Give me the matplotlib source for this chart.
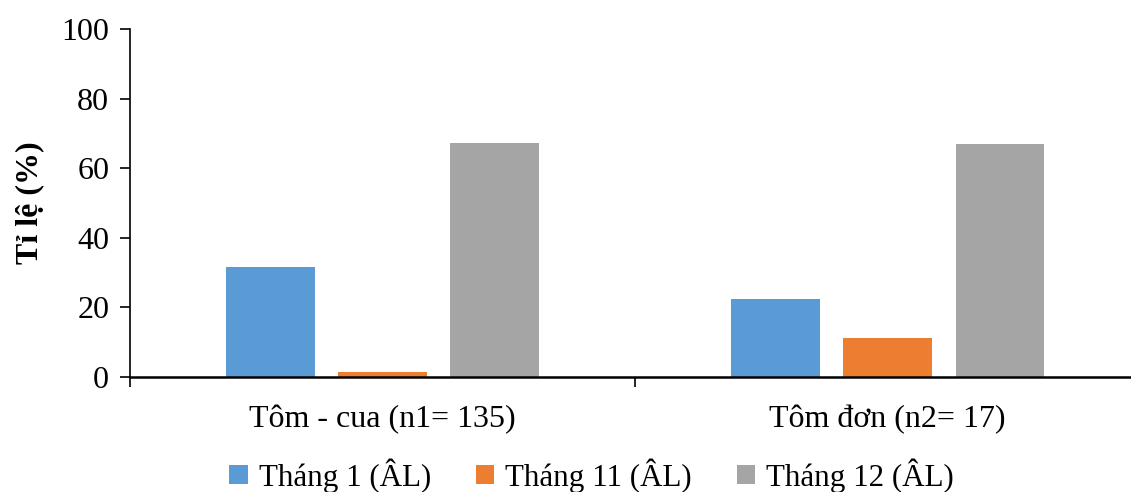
import matplotlib
matplotlib.use("Agg")
import matplotlib.pyplot as plt
import numpy as np

categories = ["Tôm - cua (n1= 135)", "Tôm đơn (n2= 17)"]
series_names = ["Tháng 1 (ÂL)", "Tháng 11 (ÂL)", "Tháng 12 (ÂL)"]
thang1 = [31.6, 22.4]
thang11 = [1.5, 11.2]
thang12 = [67.2, 66.8]
colors = ["#5B9BD5", "#ED7D31", "#A5A5A5"]
y_ticks = [0, 20, 40, 60, 80, 100]

plt.rcParams['font.family'] = ['Liberation Serif', 'DejaVu Serif']

fig = plt.figure(figsize=(11.31, 4.92), dpi=100)
ax = fig.add_axes([0.115, 0.2337, 0.885, 0.7075])

x = np.arange(len(categories))
width = 0.175
offsets = [-0.222, 0.0, 0.222]
for vals, off, c, name in zip([thang1, thang11, thang12], offsets, colors, series_names):
    ax.bar(x + off, vals, width, color=c, label=name, zorder=2)

ax.set_yticks(y_ticks)
ax.set_yticklabels([str(v) for v in y_ticks], fontsize=23)
ax.tick_params(axis='y', direction='out', length=7, width=1.2, pad=8)

ax.set_xticks([-0.5, 0.5, 1.5])
ax.set_xticklabels([])
ax.set_xticks(x, minor=True)
ax.set_xticklabels(categories, minor=True, fontsize=23)
ax.tick_params(axis='x', which='major', direction='out', length=7, width=1.2)
ax.tick_params(axis='x', which='minor', length=0, pad=20)

ax.set_ylim(0, 100)
ax.set_xlim(-0.5, 1.482)

for s in ['top', 'right']:
    ax.spines[s].set_visible(False)
ax.spines['left'].set_linewidth(1.2)
ax.spines['bottom'].set_linewidth(1.8)

ax.set_ylabel("Tỉ lệ (%)", fontsize=23, fontweight='bold', labelpad=12)

fig.legend(loc='center', bbox_to_anchor=(0.523, 0.034), ncol=3, frameon=False,
           fontsize=22.3, handlelength=0.6, handleheight=0.6, handletextpad=0.35,
           columnspacing=1.45, borderpad=0.1)

fig.savefig("out.png", dpi=100)
